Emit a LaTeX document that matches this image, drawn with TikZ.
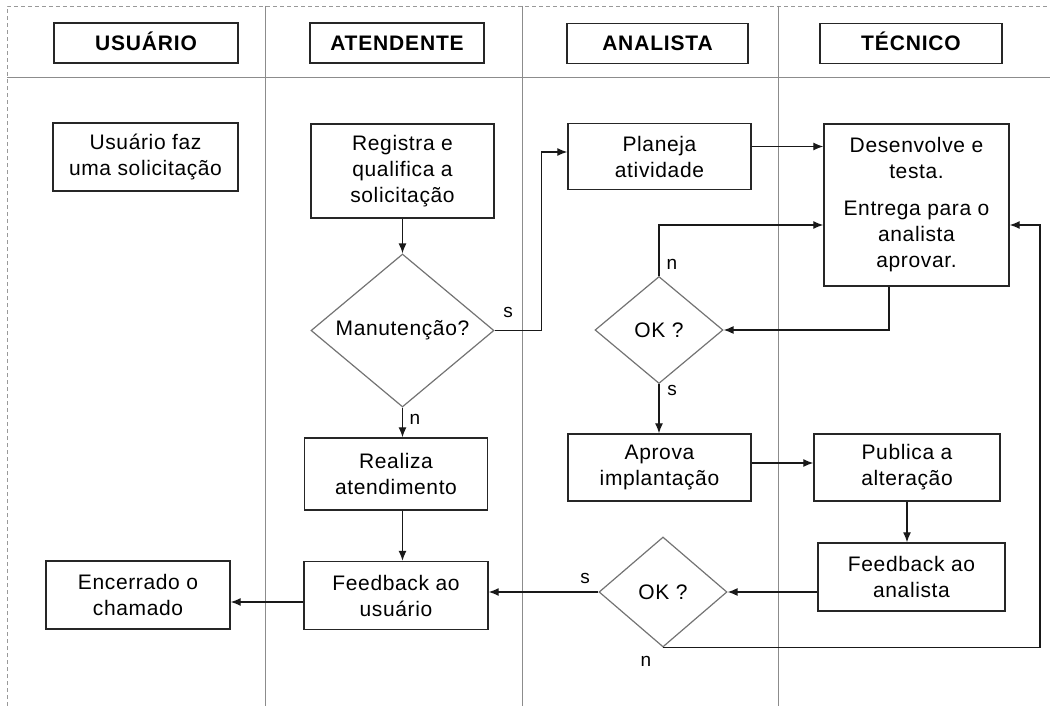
\documentclass[tikz,border=0pt]{standalone}
\usepackage{fontspec}
\setmainfont{Liberation Sans}
\newfontfamily\bodyf{Liberation Sans}[LetterSpace=3]
\newfontfamily\hdrf{Liberation Sans}[LetterSpace=4]
\usetikzlibrary{shapes.geometric,arrows.meta,calc}
\begin{document}
\begin{tikzpicture}[x=1pt,y=-1pt,
  lane/.style={draw=black!45, line width=0.9pt},
  border/.style={draw=black!40, line width=0.9pt, dash pattern=on 4pt off 3pt},
  hdr/.style={draw=black!85, line width=1.4pt, minimum height=40pt, inner sep=0pt,
    text height=15pt, text depth=0pt,
    font=\hdrf\bfseries\fontsize{21}{26}\selectfont},
  box/.style={draw=black!85, line width=1.4pt, align=center, inner sep=0pt,
    font=\bodyf\fontsize{21}{26}\selectfont},
  dec/.style={diamond, draw=black!55, line width=1.2pt, inner sep=0pt,
    font=\bodyf\fontsize{21}{27}\selectfont},
  arr/.style={-{Latex[length=10pt,width=8pt]}, line width=1.3pt, draw=black!90},
  lbl/.style={font=\bodyf\fontsize{19}{22}\selectfont, inner sep=0pt}
]
\useasboundingbox (0,0) rectangle (1050,706);
% frame and lanes
\draw[border] (7,706) -- (7,6) -- (1050,6);
\draw[lane] (7,77) -- (1050,77);
\draw[lane] (265,6) -- (265,706);
\draw[lane] (522,6) -- (522,706);
\draw[lane] (778,6) -- (778,706);
% headers
\node[hdr, minimum width=184pt] (h1) at (146,43) {USUÁRIO};
\node[hdr, minimum width=174pt] (h2) at (397,43) {ATENDENTE};
\node[hdr, minimum width=181pt] (h3) at (657.5,43.5) {ANALISTA};
\node[hdr, minimum width=182pt] (h4) at (911,43.5) {TÉCNICO};
% nodes
\node[box, minimum width=185pt, minimum height=68pt] (usr) at (145.5,157) {Usuário faz\\uma solicitação};
\node[box, minimum width=183pt, minimum height=94pt] (reg) at (402.5,171) {Registra e\\qualifica a\\solicitação};
\node[dec, minimum width=183pt, minimum height=153pt, shape aspect=1.2] (man) at (402.5,330.5) {Manutenção?};
\node[box, minimum width=183pt, minimum height=72pt] (rea) at (396,474) {Realiza\\atendimento};
\node[box, minimum width=184pt, minimum height=68pt] (fbu) at (396,595.5) {Feedback ao\\usuário};
\node[box, minimum width=184pt, minimum height=68pt] (enc) at (138,595) {Encerrado o\\chamado};
\node[box, minimum width=183pt, minimum height=66pt] (pla) at (659.5,156.5) {Planeja\\atividade};
\node[box, minimum width=185pt, minimum height=162pt] (des) at (916.5,205) {Desenvolve e\\testa.\\[11pt]Entrega para o\\analista\\aprovar.};
\node[dec, minimum width=128pt, minimum height=107pt, shape aspect=1.2] (ok1) at (659,330) {OK ?};
\node[box, minimum width=183pt, minimum height=67pt] (apr) at (659.5,467.5) {Aprova\\implantação};
\node[box, minimum width=186pt, minimum height=67pt] (pub) at (907,467.5) {Publica a\\alteração};
\node[box, minimum width=187pt, minimum height=68pt] (fba) at (911.5,577) {Feedback ao\\analista};
\node[dec, minimum width=128pt, minimum height=110pt, shape aspect=1.16] (ok2) at (663,592) {OK ?};
% connectors
\draw[arr] (reg.south) -- (man.north);
\draw[arr] (man.south) -- (man.south |- rea.north);
\draw[arr] (rea.south -| man.south) -- (fbu.north -| man.south);
\draw[arr] (man.east) -- ++(47,0) |- ([yshift=4.5pt]pla.west);
\draw[arr] ([yshift=10pt]pla.east) -- ([yshift=10pt]pla.east -| des.west);
\draw[arr] ([xshift=-27.5pt]des.south) |- (ok1.east);
\draw[arr] (ok1.north) |- ([yshift=-20pt]des.west);
\draw[arr] (ok1.south) -- (ok1.south |- apr.north);
\draw[arr] ([yshift=4.5pt]apr.east) -- ([yshift=4.5pt]apr.east -| pub.west);
\draw[arr] (pub.south) -- (pub.south |- fba.north);
\draw[arr] (ok2.east -| fba.west) -- (ok2.east);
\draw[arr] (ok2.west) -- (ok2.west -| fbu.east);
\draw[arr] ([yshift=-6.5pt]fbu.west) -- ([yshift=-6.5pt]fbu.west -| enc.east);
\draw[arr] (ok2.south) -- ++(377,0) |- ([yshift=-20pt]des.east);
% labels
\node[lbl] (s1) at (508,312) {s};
\node[lbl] (n1) at (415,419) {n};
\node[lbl] (n2) at (672,264) {n};
\node[lbl] (s2) at (672,390) {s};
\node[lbl] (s3) at (585,578) {s};
\node[lbl] (n3) at (646,661) {n};
\end{tikzpicture}
\end{document}
